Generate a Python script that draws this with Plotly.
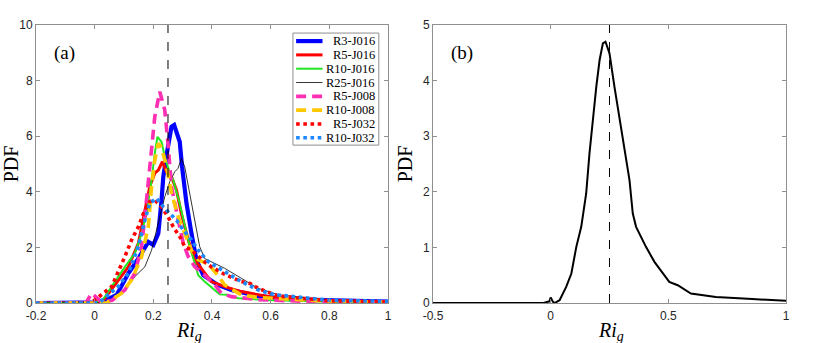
import plotly.graph_objects as go
from plotly.subplots import make_subplots

# panel (a): PDF of Ri_g for each run
r3_j016_x = [-0.2, 0.0, 0.024, 0.075, 0.115, 0.149, 0.171, 0.183, 0.2, 0.217, 0.228, 0.234, 0.248, 0.262,
             0.271, 0.282, 0.29, 0.298, 0.313, 0.33, 0.347, 0.37, 0.392, 0.42, 0.466, 0.511, 0.557, 0.67, 0.84, 1.0]
r3_j016_y = [0, 0, 0.02, 0.29, 1.07, 1.6, 1.97, 2.2, 2.09, 2.5, 3.7, 4.54, 5.5, 6.34,
             6.4, 5.98, 5.8, 4.9, 3.59, 2.5, 1.55, 1.0, 0.83, 0.65, 0.47, 0.35, 0.25, 0.13, 0.07, 0.05]

r5_j016_x = [-0.2, 0.0, 0.03, 0.08, 0.115, 0.149, 0.171, 0.188, 0.205, 0.217, 0.231, 0.245, 0.262, 0.279,
             0.296, 0.319, 0.341, 0.364, 0.398, 0.443, 0.5, 0.557, 0.613, 0.8, 1.0]
r5_j016_y = [0, 0, 0.1, 0.83, 1.3, 2.15, 3.35, 4.2, 4.67, 4.78, 5.08, 4.72, 4.54, 4.06,
             3.2, 2.27, 1.55, 1.22, 0.77, 0.59, 0.41, 0.3, 0.2, 0.08, 0.04]

r10_j016_x = [-0.2, 0.0, 0.03, 0.08, 0.103, 0.137, 0.16, 0.177, 0.194, 0.205, 0.214, 0.228, 0.239, 0.253,
              0.268, 0.287, 0.307, 0.324, 0.341, 0.353, 0.375, 0.41, 0.426, 0.45, 0.49, 0.6, 0.8, 1.0]
r10_j016_y = [0, 0, 0.15, 0.95, 1.3, 1.79, 2.5, 3.22, 4.42, 5.38, 5.98, 5.8, 5.26, 4.78,
              4.42, 3.7, 2.74, 2.03, 1.45, 1.0, 0.77, 0.47, 0.31, 0.3, 0.17, 0.1, 0.05, 0.03]

r25_j016_x = [-0.2, 0.03, 0.058, 0.103, 0.137, 0.171, 0.194, 0.217, 0.239, 0.256, 0.273, 0.284, 0.296, 0.307,
              0.324, 0.341, 0.358, 0.375, 0.443, 0.5, 0.557, 0.625, 0.8, 1.0]
r25_j016_y = [0, 0, 0.1, 0.47, 0.95, 1.3, 1.9, 2.87, 3.82, 4.36, 4.72, 4.84, 5.2, 4.9,
              3.95, 3.1, 2.03, 1.6, 1.25, 0.89, 0.53, 0.3, 0.1, 0.05]

r5_j008_x = [-0.2, -0.03, -0.01, 0.024, 0.06, 0.103, 0.137, 0.16, 0.171, 0.183, 0.194, 0.205, 0.222, 0.239,
             0.25, 0.262, 0.285, 0.302, 0.319, 0.341, 0.375, 0.41, 0.432, 0.466, 0.557, 0.8, 1.0]
r5_j008_y = [0, 0, 0.35, 0.03, 0.1, 0.47, 1.07, 2.03, 3.1, 4.3, 5.5, 6.7, 7.6, 6.94,
             5.74, 4.18, 2.98, 2.15, 1.67, 1.31, 1.0, 0.65, 0.35, 0.23, 0.12, 0.03, 0.0]

r10_j008_x = [-0.2, 0.04, 0.092, 0.126, 0.16, 0.183, 0.194, 0.205, 0.217, 0.228, 0.245, 0.262, 0.285, 0.307,
              0.33, 0.353, 0.387, 0.42, 0.443, 0.5, 0.557, 0.8, 1.0]
r10_j008_y = [0, 0, 0.35, 0.83, 1.67, 2.74, 4.18, 5.14, 5.74, 5.6, 4.9, 3.95, 3.1, 2.5,
              1.9, 1.55, 1.4, 1.0, 0.65, 0.29, 0.2, 0.06, 0.03]

r5_j032_x = [-0.2, -0.02, 0.0, 0.058, 0.103, 0.126, 0.149, 0.171, 0.188, 0.205, 0.228, 0.25, 0.268, 0.29,
             0.307, 0.33, 0.387, 0.443, 0.5, 0.53, 0.557, 0.625, 0.8, 1.0]
r5_j032_y = [0, 0, 0.1, 0.59, 1.67, 2.27, 2.74, 3.35, 3.65, 3.7, 3.46, 3.1, 2.74, 2.39,
             2.03, 1.9, 1.37, 1.03, 0.77, 0.7, 0.53, 0.25, 0.08, 0.04]

r10_j032_x = [-0.2, 0.0, 0.02, 0.08, 0.115, 0.149, 0.171, 0.188, 0.211, 0.234, 0.256, 0.279, 0.302, 0.33,
              0.353, 0.387, 0.443, 0.5, 0.557, 0.613, 0.8, 1.0]
r10_j032_y = [0, 0, 0.05, 0.59, 1.07, 2.03, 2.98, 3.59, 3.77, 3.46, 3.22, 2.98, 2.63, 2.27,
              1.9, 1.49, 1.13, 0.77, 0.47, 0.3, 0.1, 0.06]

# panel (b): combined PDF
all_x = [-0.5, -0.03, -0.005, 0.0, 0.01, 0.017, 0.038, 0.066, 0.088, 0.109, 0.13, 0.151, 0.165, 0.179,
         0.194, 0.208, 0.222, 0.233, 0.25, 0.271, 0.292, 0.314, 0.335, 0.349, 0.363, 0.405, 0.441, 0.504,
         0.54, 0.596, 0.702, 0.857, 1.0]
all_y = [0, 0, 0.03, 0.1, 0.02, 0.0, 0.05, 0.29, 0.53, 1.01, 1.37, 1.97, 2.69, 3.29,
         3.89, 4.37, 4.67, 4.7, 4.49, 3.89, 3.35, 2.75, 2.21, 1.61, 1.37, 1.01, 0.74, 0.38,
         0.32, 0.17, 0.11, 0.07, 0.04]

ri_critical = 0.25

xticks_a = [-0.2, 0, 0.2, 0.4, 0.6, 0.8, 1]
xticklabels_a = ["-0.2", "0", "0.2", "0.4", "0.6", "0.8", "1"]
yticks_a = [0, 2, 4, 6, 8, 10]
xticks_b = [-0.5, 0, 0.5, 1]
xticklabels_b = ["-0.5", "0", "0.5", "1"]
yticks_b = [0, 1, 2, 3, 4, 5]

SERIF = "Liberation Serif, DejaVu Serif, serif"
SANS = "Liberation Sans, Arial, sans-serif"
AXIS_GREY = "#8f8f8f"

runs = [
    ("R3-J016", r3_j016_x, r3_j016_y, "#0000ff", 4.2, "solid"),
    ("R5-J016", r5_j016_x, r5_j016_y, "#ff0000", 3.0, "solid"),
    ("R10-J016", r10_j016_x, r10_j016_y, "#22e622", 2.0, "solid"),
    ("R25-J016", r25_j016_x, r25_j016_y, "#000000", 0.8, "solid"),
    ("R5-J008", r5_j008_x, r5_j008_y, "#ff2fb4", 3.6, "10px,6px"),
    ("R10-J008", r10_j008_x, r10_j008_y, "#ffc800", 3.6, "10px,6px"),
    ("R5-J032", r5_j032_x, r5_j032_y, "#ff0000", 3.6, "dot"),
    ("R10-J032", r10_j032_x, r10_j032_y, "#1e88ff", 3.6, "dot"),
]

fig = make_subplots(rows=1, cols=2)

for name, xs, ys, color, width, dash in runs:
    fig.add_trace(
        go.Scatter(x=xs, y=ys, name=name, mode="lines", showlegend=False,
                   line=dict(color=color, width=width, dash=dash)),
        row=1, col=1,
    )

fig.add_trace(
    go.Scatter(x=all_x, y=all_y, mode="lines", showlegend=False,
               line=dict(color="black", width=2)),
    row=1, col=2,
)

for col in (1, 2):
    fig.add_vline(x=ri_critical, line=dict(color="black", width=1, dash="dash"), row=1, col=col)

axis_style = dict(
    showline=True, linecolor=AXIS_GREY, linewidth=1, mirror="ticks",
    ticks="inside", ticklen=4, tickcolor=AXIS_GREY,
    showgrid=False, zeroline=False, automargin=False,
    tickfont=dict(family=SANS, size=12, color="#262626"),
)

fig.update_xaxes(axis_style)
fig.update_yaxes(axis_style)
fig.update_xaxes(ticklabelstandoff=2)

fig.update_xaxes(range=[-0.2, 1], tickvals=xticks_a, ticktext=xticklabels_a,
                 domain=[0, 0.4693], row=1, col=1)
fig.update_xaxes(range=[-0.5, 1], tickvals=xticks_b, ticktext=xticklabels_b,
                 domain=[0.5293, 1], row=1, col=2)
fig.update_yaxes(range=[0, 10], tickvals=yticks_a, row=1, col=1)
fig.update_yaxes(range=[0, 5], tickvals=yticks_b, row=1, col=2)

for col in (1, 2):
    fig.update_yaxes(title=dict(text="PDF", standoff=4,
                                font=dict(family=SERIF, size=20, color="black")),
                     row=1, col=col)

# x labels as annotations: the left one sits off-centre in the original
for ref, xpos in (("", 0.435), ("2", 0.504)):
    fig.add_annotation(text="<i>Ri</i><sub><i>g</i></sub>", x=xpos, y=-0.052,
                       xref=f"x{ref} domain", yref="paper", xanchor="center", yanchor="top",
                       showarrow=False, font=dict(family=SERIF, size=20, color="black"))

for label, ref in (("(a)", ""), ("(b)", "2")):
    fig.add_annotation(text=label, x=0.045, y=0.899, xref=f"x{ref} domain", yref=f"y{ref} domain",
                       xanchor="left", yanchor="middle", showarrow=False,
                       font=dict(family=SERIF, size=19, color="black"))

# legend box drawn inside panel (a), compact rows like the original figure
leg_x0, leg_x1, leg_top, leg_row = 0.730, 0.974, 0.971, 0.0497
fig.add_shape(type="rect", xref="x domain", yref="y domain",
              x0=leg_x0, x1=leg_x1, y0=leg_top - leg_row * len(runs) - 0.0055, y1=leg_top,
              line=dict(color=AXIS_GREY, width=1), fillcolor="white", layer="above")
for i, (name, xs, ys, color, width, dash) in enumerate(runs):
    yc = leg_top - leg_row * (i + 0.58)
    fig.add_shape(type="line", xref="x domain", yref="y domain",
                  x0=leg_x0 + 0.009, x1=leg_x0 + 0.084, y0=yc, y1=yc,
                  line=dict(color=color, width=width, dash=dash), layer="above")
    fig.add_annotation(text=name, xref="x domain", yref="y domain",
                       x=leg_x1 - 0.006, y=yc, xanchor="right", yanchor="middle",
                       showarrow=False, font=dict(family=SERIF, size=12.5, color="black"))

fig.update_layout(
    width=830, height=343,
    margin=dict(l=36, r=44, t=25, b=40),
    plot_bgcolor="white", paper_bgcolor="white",
    showlegend=False,
)

fig.write_html("out.html", config={"displayModeBar": False},
               post_script="document.body.style.margin='0';")
